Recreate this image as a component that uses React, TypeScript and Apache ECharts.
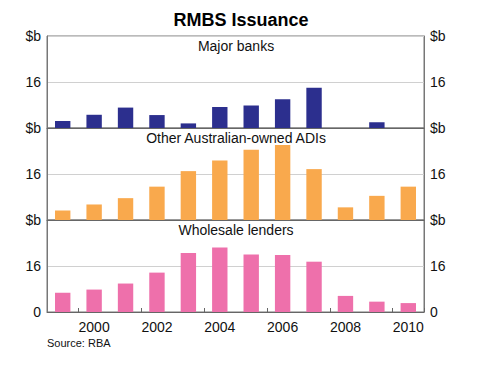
import React, { useEffect, useRef } from "react";
import * as echarts from "echarts";

const years = ["1999", "2000", "2001", "2002", "2003", "2004", "2005", "2006", "2007", "2008", "2009", "2010"];
const majorBanks = [2.4, 4.6, 7.1, 4.5, 1.6, 7.3, 7.8, 10.0, 14.0, 0, 2.0, 0];
const otherADIs = [3.3, 5.4, 7.6, 11.6, 17.0, 20.7, 24.4, 26.1, 17.7, 4.4, 8.4, 11.6];
const wholesale = [6.7, 7.8, 9.9, 13.7, 20.5, 22.4, 20.0, 19.8, 17.5, 5.6, 3.6, 3.1];
const panelTitles = ["Major banks", "Other Australian-owned ADIs", "Wholesale lenders"];
const colors = ["#2c2f8e", "#f9a94d", "#ee70ab"];
const panelData = [majorBanks, otherADIs, wholesale];

const FONT = "Liberation Sans, Arial, sans-serif";

export default function App() {
  const ref = useRef<HTMLDivElement>(null);
  useEffect(() => {
    if (!ref.current) return;
    const chart = echarts.init(ref.current, undefined, { renderer: "svg" });
    const tops = [36, 128, 220];
    const h = 92;
    const grids = tops.map((t) => ({
      left: 47,
      right: 60,
      top: t,
      height: h,
      show: true,
      borderColor: "#777",
      borderWidth: 1,
      backgroundColor: "transparent",
    }));
    const xAxes = tops.map((_, i) => ({
      type: "category",
      gridIndex: i,
      data: years,
      boundaryGap: true,
      axisLine: { show: true, lineStyle: { color: "#666", width: 1 } },
      axisTick: {
        show: i === 2,
        inside: true,
        length: 4,
        lineStyle: { color: "#666" },
      },
      axisLabel: {
        show: i === 2,
        interval: (idx: number) => idx % 2 === 1,
        color: "#111",
        fontSize: 14,
        fontFamily: FONT,
        margin: 8,
      },
    }));
    const yAxes: any[] = [];
    tops.forEach((_, i) => {
      ["left", "right"].forEach((pos) => {
        yAxes.push({
          type: "value",
          gridIndex: i,
          position: pos,
          min: 0,
          max: 32,
          interval: 16,
          axisLine: { show: true, lineStyle: { color: "#777" } },
          axisTick: { show: false },
          splitLine: {
            show: pos === "left",
            lineStyle: { color: "#d0d0d0", width: 1 },
          },
          axisLabel: {
            color: "#111",
            fontSize: 14,
            fontFamily: FONT,
            margin: 6,
            formatter: (v: number) => {
              if (v === 32) return "$b";
              if (v === 0) return i === 2 ? "0" : "";
              return String(v);
            },
          },
        });
      });
    });
    const series = panelData.map((d, i) => ({
      type: "bar",
      xAxisIndex: i,
      yAxisIndex: i * 2,
      data: d,
      barWidth: "49%",
      itemStyle: { color: colors[i] },
    }));
    const titles: any[] = [
      {
        text: "RMBS Issuance",
        left: 236,
        textAlign: "center",
        top: 6,
        textStyle: { fontSize: 18, fontWeight: "bold", color: "#000", fontFamily: FONT },
      },
    ];
    const graphics: any[] = panelTitles.map((t, i) => ({
      type: "text",
      x: 236,
      y: tops[i] + 10,
      style: {
        text: t,
        fontSize: 14,
        fontFamily: FONT,
        fill: "#111",
        textAlign: "center",
        textVerticalAlign: "middle",
      },
    }));
    graphics.push({
      type: "text",
      x: 47,
      y: 343,
      style: {
        text: "Source: RBA",
        fontSize: 11,
        fontFamily: FONT,
        fill: "#111",
        textAlign: "left",
        textVerticalAlign: "middle",
      },
    });
    chart.setOption({
      animation: false,
      backgroundColor: "#fff",
      title: titles,
      grid: grids,
      xAxis: xAxes,
      yAxis: yAxes,
      series,
      graphic: graphics,
    });
    return () => chart.dispose();
  }, []);
  return <div ref={ref} style={{ width: 484, height: 366, position: "absolute", left: 0, top: 0 }} />;
}
